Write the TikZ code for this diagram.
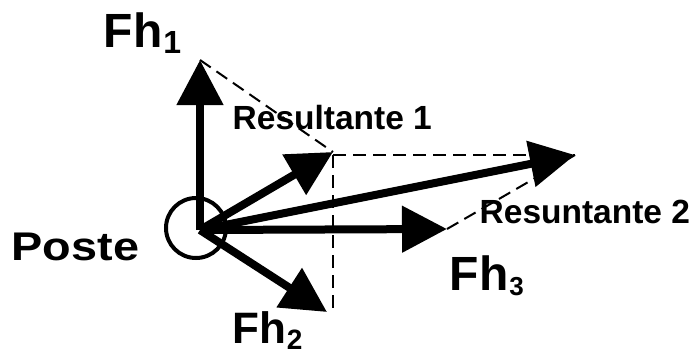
\documentclass[tikz,border=0pt]{standalone}
\usepackage{fontspec}
\setmainfont{Liberation Sans}
\usetikzlibrary{arrows.meta}
\tikzset{
  force/.style={line width=8pt, -{Triangle[length=45pt,width=45pt]}},
  guide/.style={line width=2pt, dash pattern=on 13pt off 7pt},
  lbl/.style={inner sep=0pt, anchor=base west, font=\bfseries},
}
\newcommand{\fsz}[1]{\fontsize{#1}{#1}\selectfont}
\begin{document}
\begin{tikzpicture}[x=1pt,y=-1pt]
\useasboundingbox (0,0) rectangle (696,354);
\coordinate (O) at (200,230);
\coordinate (t1) at (200,60);
\coordinate (t2) at (327,312);
\coordinate (t3) at (447,229);
\coordinate (r1) at (333,152);
\coordinate (r2) at (575,155);
\coordinate (c1) at (333,155);
\coordinate (c2) at (333,310);
\node[draw, circle, line width=4pt, minimum size=60pt, inner sep=0pt] (poste) at (196,228) {};
% labels
\node[lbl] (lfh1) at (103.5,47) {\fsz{48}Fh\kern1pt\raisebox{-6pt}{\fsz{32}1}};
\node[lbl] (lfh2) at (232,343) {\fsz{44}Fh\kern1pt\raisebox{-6pt}{\fsz{28}2}};
\node[lbl] (lfh3) at (449.5,290) {\fsz{48}Fh\kern1pt\raisebox{-5pt}{\fsz{26}3}};
\node[lbl] (lposte) at (11.4,260) {\scalebox{1.17}[1]{\fsz{40}Poste}};
\node[lbl] (lr1) at (232.5,129) {\fsz{33.5}Resultante 1};
\node[lbl] (lr2) at (479.5,223) {\fsz{33.5}Resuntante 2};
% dashed construction lines
\draw[guide] (t1) -- (r1);
\draw[guide] (c1) -- (c2);
\draw[guide] (c1) -- (r2);
\draw[guide] (t3) -- (r2);
% force arrows
\draw[force] (O) -- (t1);
\draw[force] (O) -- (t2);
\draw[force] (O) -- (t3);
\draw[force] (O) -- (r1);
\draw[force] (O) -- (r2);
\end{tikzpicture}
\end{document}
